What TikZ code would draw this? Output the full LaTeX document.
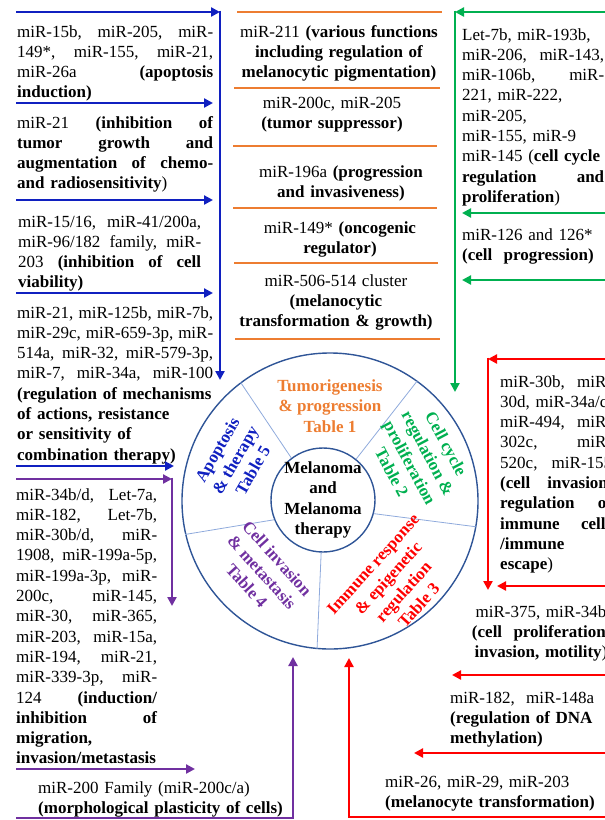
\documentclass[tikz,border=0pt]{standalone}
\usepackage{fontspec}
\setmainfont{Liberation Serif}
\usetikzlibrary{arrows.meta}
\definecolor{apoblue}{HTML}{1020C0}
\definecolor{tumorange}{HTML}{ED7D31}
\definecolor{cycgreen}{HTML}{00B050}
\definecolor{immred}{HTML}{FF0000}
\definecolor{invpurple}{HTML}{7030A0}
\definecolor{ringblue}{HTML}{2F5597}
\definecolor{divblue}{HTML}{8FAADC}
\tikzset{
  txt/.style={font=\fontsize{17}{20.3}\selectfont, inner sep=0pt, align=left, anchor=base west},
  ctxt/.style={txt, align=center, anchor=base},
  sector/.style={font=\fontsize{17}{20.5}\selectfont\bfseries, inner sep=0pt, align=center},
  link/.style={line width=2.6pt, -{Triangle[length=9pt,width=9pt]}},
  bar/.style={line width=2.6pt, tumorange},
}

\begin{document}
\begin{tikzpicture}[x=1pt, y=-1pt]
\useasboundingbox (0,0) rectangle (605,820);
\clip (0,0) rectangle (605,820);
% the wheel
\node[circle, draw=ringblue, line width=1.4pt, minimum size=296, inner sep=0pt] (ring) at (330,501) {};
\node[circle, draw=ringblue, line width=1.4pt, minimum size=104, inner sep=0pt] (core) at (323,500) {};
\foreach \a/\b in {127/127, 51/54, 345/350, 202/193, 268/265}
  \draw[divblue, line width=0.8pt] (core.\a) -- (ring.\b);
\node[sector] (coretext) at (core) {Melanoma\\and\\Melanoma\\therapy};
\node[sector, text=tumorange] (tum) at (330,406) {Tumorigenesis\\\& progression\\Table 1};
\node[sector, text=cycgreen, rotate=-62] (cyc) at (419,458) {Cell cycle\\regulation \&\\proliferation\\Table 2};
\node[sector, text=immred, rotate=48] (imm) at (396,585) {Immune response\\\& epigenetic\\regulation\\Table 3};
\node[sector, text=invpurple, rotate=-48] (inv) at (262,572) {Cell invasion\\\& metastasis\\Table 4};
\node[sector, text=apoblue, rotate=60] (apo) at (235,460) {Apoptosis\\\& therapy\\Table 5};

% left column: apoptosis & therapy
\node[txt, text width=196] (apo1) at (17,37) {miR-15b,\hfill miR-205,\hfill miR-\\
  149*,\hfill miR-155,\hfill miR-21,\\
  miR-26a\hfill\textbf{(apoptosis}\\
  \textbf{induction)}};
\node[txt, text width=196] (apo2) at (17,128) {miR-21\hfill\textbf{(inhibition\hfill of}\\
  \textbf{tumor\hfill growth\hfill and}\\
  \textbf{augmentation\hfill of\hfill chemo-}\\
  \textbf{and radiosensitivity})};
\node[txt, text width=183] (apo3) at (18,227) {miR-15/16,\hfill miR-41/200a,\\
  miR-96/182\hfill family,\hfill miR-\\
  203\hfill\textbf{(inhibition\hfill of\hfill cell}\\
  \textbf{viability)}};
\node[txt, text width=196] (apo4) at (17,318) {miR-21,\hfill miR-125b,\hfill miR-7b,\\
  miR-29c,\hfill miR-659-3p,\hfill miR-\\
  514a,\hfill miR-32,\hfill miR-579-3p,\\
  miR-7,\hfill miR-34a,\hfill miR-100\\
  \textbf{(regulation of mechanisms}\\
  \textbf{of actions, resistance}\\
  \textbf{or sensitivity of}\\
  \textbf{combination therapy)}};
\coordinate (bs0) at (16,12);
\coordinate (bturn) at (220,12);
\coordinate (btip) at (220,380);
\draw[link, apoblue] (bs0) -- (bturn);
\draw[link, apoblue, shorten <=-1.3pt] (bturn) -- (btip);
\foreach \k/\y/\e in {1/103/213, 2/200/213, 3/293/213, 4/466/174} {
  \coordinate (bs\k) at (16,\y);
  \coordinate (bt\k) at (\e,\y);
  \draw[link, apoblue] (bs\k) -- (bt\k);
}

% left column: invasion & metastasis
\node[txt, text width=141] (inv1) at (16,500) {miR-34b/d,\hfill Let-7a,\\
  miR-182,\hfill Let-7b,\\
  miR-30b/d,\hfill miR-\\
  1908,\hfill miR-199a-5p,\\
  miR-199a-3p,\hfill miR-\\
  200c,\hfill miR-145,\\
  miR-30,\hfill miR-365,\\
  miR-203,\hfill miR-15a,\\
  miR-194,\hfill miR-21,\\
  miR-339-3p,\hfill miR-\\
  124\hfill\textbf{(induction/}\\
  \textbf{inhibition\hfill of}\\
  \textbf{migration,}\\
  \textbf{invasion/metastasis}};
\node[txt, text width=250] (inv2) at (38,793) {miR-200 Family (miR-200c/a)\\
  \textbf{(morphological plasticity of cells)}};
\coordinate (ps0) at (16,479);
\coordinate (pturn) at (172,479);
\coordinate (ptip) at (172,606);
\draw[link, invpurple] (ps0) -- (pturn);
\draw[link, invpurple, shorten <=-1.3pt] (pturn) -- (ptip);
\coordinate (ps1) at (16,769);
\coordinate (pt1) at (195,769);
\draw[link, invpurple] (ps1) -- (pt1);
\coordinate (ps2) at (16,818);
\coordinate (pbend) at (293,818);
\coordinate (pt2) at (293,657);
\draw[link, invpurple] (ps2) -- (pbend) -- (pt2);

% middle column: tumorigenesis & progression
\foreach \y/\a/\b in {12/237/442, 88/234/440, 146/233/437, 208/233/437, 263/234/438, 339/235/440}
  \draw[bar] (\a,\y) -- (\b,\y);
\node[ctxt, text width=210] (tum1) at (339,37) {miR-211 \textbf{(various functions}\\
  \textbf{including regulation of}\\
  \textbf{melanocytic pigmentation)}};
\node[ctxt, text width=210] (tum2) at (332,108) {miR-200c, miR-205\\
  \textbf{(tumor suppressor)}};
\node[ctxt, text width=210] (tum3) at (341,177) {miR-196a \textbf{(progression}\\
  \textbf{and invasiveness)}};
\node[ctxt, text width=210] (tum4) at (340,233) {miR-149* \textbf{(oncogenic}\\
  \textbf{regulator)}};
\node[ctxt, text width=210] (tum5) at (336,286) {miR-506-514 cluster\\
  \textbf{(melanocytic}\\
  \textbf{transformation \& growth)}};

% right column: cell cycle
\node[txt, text width=142] (cyc1) at (462,40) {Let-7b, miR-193b,\\
  miR-206,\hfill miR-143,\\
  miR-106b,\hfill miR-\\
  221, miR-222,\\
  miR-205,\\
  miR-155, miR-9\\
  miR-145 (\textbf{cell cycle}\\
  \textbf{regulation\hfill and}\\
  \textbf{proliferation})};
\node[txt, text width=142] (cyc2) at (462,240) {miR-126 and 126*\\
  \textbf{(cell\ \ progression)}};
\coordinate (gs0) at (607,12);
\coordinate (gturn) at (455,12);
\coordinate (gtip) at (455,392);
\draw[link, cycgreen] (gs0) -- (gturn);
\draw[link, cycgreen, shorten <=-1.3pt] (gturn) -- (gtip);
\foreach \k/\y in {1/213, 2/280} {
  \coordinate (gs\k) at (607,\y);
  \coordinate (gt\k) at (462,\y);
  \draw[link, cycgreen] (gs\k) -- (gt\k);
}

% right column: immune response & epigenetics
\node[txt, text width=112] (imm1) at (500,387) {miR-30b,\hfill miR-\\
  30d, miR-34a/c,\\
  miR-494,\hfill miR-\\
  302c,\hfill miR-\\
  520c,\hfill miR-155\\
  \textbf{(cell\hfill invasion,}\\
  \textbf{regulation\hfill of}\\
  \textbf{immune\hfill cells}\\
  \textbf{/immune}\\
  \textbf{escape})};
\node[ctxt, text width=140] (imm2) at (541,617) {miR-375, miR-34b\\
  \textbf{(cell\ \ proliferation,}\\
  \textbf{invasion, motility})};
\node[txt, text width=160] (imm3) at (450,703) {miR-182,\ \ miR-148a\\
  \textbf{(regulation of DNA}\\
  \textbf{methylation)}};
\node[txt, text width=230] (imm4) at (385,787) {miR-26, miR-29, miR-203\\
  \textbf{(melanocyte transformation)}};
\coordinate (rs0) at (607,359);
\coordinate (rturn) at (488,359);
\coordinate (rtip) at (488,590);
\draw[link, immred] (rs0) -- (rturn);
\draw[link, immred, shorten <=-1.3pt] (rturn) -- (rtip);
\foreach \k/\y/\e in {1/586/497, 2/675/452, 3/753/414} {
  \coordinate (rs\k) at (607,\y);
  \coordinate (rt\k) at (\e,\y);
  \draw[link, immred] (rs\k) -- (rt\k);
}
\coordinate (rs4) at (607,817);
\coordinate (rbend) at (349,817);
\coordinate (rt4) at (349,658);
\draw[link, immred] (rs4) -- (rbend) -- (rt4);
\end{tikzpicture}
\end{document}
